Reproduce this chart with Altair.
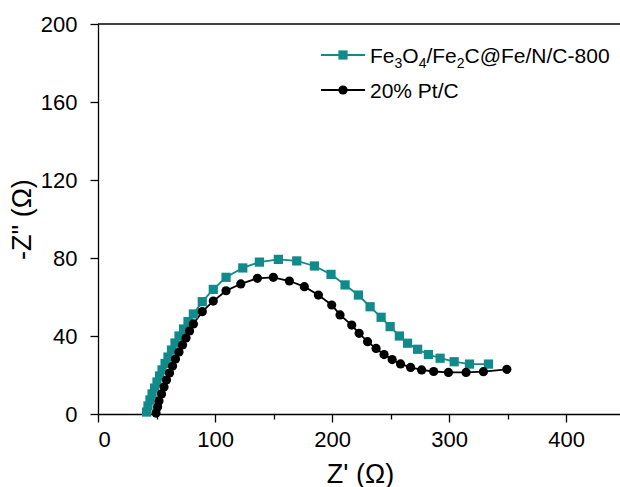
import altair as alt
import pandas as pd

# ---- data ----
series_names = ["Fe3O4/Fe2C@Fe/N/C-800", "20% Pt/C"]
series_colors = ["#108A8A", "#000000"]
series_shapes = ["square", "circle"]
# legend labels as (text, is_subscript) pieces
legend_labels = [
    [("Fe", False), ("3", True), ("O", False), ("4", True), ("/Fe", False), ("2", True),
     ("C@Fe/N/C-800", False)],
    [("20% Pt/C", False)],
]

teal_x = [41.5, 42.7, 44.4, 46.2, 48.3, 50.4, 52.6, 54.7, 57.3, 59.8, 62.8, 65.8, 69.2,
          73.1, 76.9, 81.5, 89.1, 98.5, 109.4, 123.7, 137.9, 154.1, 169.8, 184.9, 199.1,
          211.1, 222.5, 232.5, 241.9, 249.6, 257.5, 264.5, 273.1, 282.3, 292.3, 304.3,
          317.4, 333.6]
teal_y = [1.0, 4.1, 7.2, 10.3, 13.3, 16.4, 19.5, 22.6, 25.9, 29.2, 32.8, 36.4, 40.0,
          43.6, 47.4, 51.3, 57.6, 63.9, 70.1, 74.9, 77.9, 79.3, 78.5, 75.9, 71.6,
          66.2, 61.0, 55.0, 49.6, 44.8, 40.0, 36.3, 33.2, 30.5, 28.6, 26.8,
          25.6, 25.6]

black_x = [49.6, 50.9, 52.1, 54.3, 56.4, 58.5, 61.1, 63.7, 66.2, 69.2, 72.2, 75.2, 78.2,
           81.5, 89.1, 98.5, 109.4, 122.0, 136.2, 149.8, 163.5, 176.3, 188.3, 199.7,
           206.8, 216.8, 223.1, 230.3, 237.6, 244.4, 251.3, 258.5, 267.1, 276.5, 286.8,
           299.4, 314.5, 329.3, 349.3]
black_y = [0.5, 3.6, 6.7, 10.3, 13.8, 17.4, 21.0, 24.6, 28.2, 31.8, 35.4, 39.0, 42.6,
           46.2, 52.5, 57.9, 63.2, 66.7, 69.6, 70.1, 68.2, 65.3, 61.0, 55.9,
           50.8, 45.6, 41.4, 37.1, 33.6, 30.5, 27.9, 25.7, 23.9, 22.6, 21.8,
           21.3, 21.3, 21.7, 22.9]

x_ticks = [0, 50, 100, 150, 200, 250, 300, 350, 400]
y_ticks = [0, 20, 40, 60, 80, 100, 120, 140, 160, 180, 200]

df = pd.concat([
    pd.DataFrame({"x": teal_x, "y": teal_y, "series": series_names[0],
                  "i": range(len(teal_x)), "k": 0}),
    pd.DataFrame({"x": black_x, "y": black_y, "series": series_names[1],
                  "i": range(len(black_x)), "k": 1}),
], ignore_index=True)

W, H = 522, 390
FONT = "Liberation Sans"
LEG_FS, SUB_FS = 21, 14
MSIZE = 85

# approximate Arial/Liberation Sans advance widths (per 1000 em) for placing legend pieces
CW = {"F": 611, "e": 556, "O": 778, "/": 278, "C": 722, "@": 1015, "N": 722, "-": 333,
      "%": 889, " ": 278, "P": 667, "t": 278}


def text_width(s, fs):
    return sum(CW.get(ch, 556) for ch in s) * fs / 1000.0


xaxis = alt.Axis(
    values=x_ticks,
    labelExpr="datum.value % 100 === 0 ? datum.label : ''",
    tickSize={"condition": {"test": "datum.value % 100 === 0", "value": 8}, "value": 5},
    labelPadding=7,
    title="Z' (Ω)",
    titleX=262, titleY=68, titleAlign="center", titleBaseline="alphabetic",
    grid=False,
)
yaxis = alt.Axis(
    values=y_ticks,
    labelExpr="datum.value % 40 === 0 ? datum.label : ''",
    tickSize={"condition": {"test": "datum.value % 40 === 0", "value": 8}, "value": 5},
    labelPadding=13,
    title='-Z" (Ω)',
    titleAngle=270, titleX=-76, titleY=195, titleAlign="center", titleBaseline="middle",
    grid=False,
)

xs = alt.Scale(domain=[0, 446], nice=False, zero=False)
ys = alt.Scale(domain=[0, 200], nice=False)
color = alt.Color("series:N", scale=alt.Scale(domain=series_names, range=series_colors), legend=None)

base = alt.Chart(df)
lines = base.mark_line(strokeWidth=1.8).encode(
    x=alt.X("x:Q", scale=xs, axis=xaxis),
    y=alt.Y("y:Q", scale=ys, axis=yaxis),
    color=color,
    detail="series:N",
    order=alt.Order("i:Q"),
)
points = base.mark_point(filled=True, size=MSIZE, opacity=1).encode(
    x=alt.X("x:Q", scale=xs),
    y=alt.Y("y:Q", scale=ys),
    color=color,
    shape=alt.Shape("series:N", scale=alt.Scale(domain=series_names, range=series_shapes), legend=None),
    order=alt.Order("k:Q"),
)

top_line = alt.Chart(pd.DataFrame({"a": [0]})).mark_rule(color="black", strokeWidth=1.3).encode(
    x=alt.value(0), x2=alt.value(W), y=alt.value(0)
)

legend_layers = []
for idx, (pieces, col, shp) in enumerate(zip(legend_labels, series_colors, series_shapes)):
    yy = 31 + 35 * idx
    one = alt.Chart(pd.DataFrame({"a": [0]}))
    legend_layers.append(one.mark_rule(color=col, strokeWidth=1.8).encode(
        x=alt.value(223), x2=alt.value(267), y=alt.value(yy)))
    legend_layers.append(one.mark_point(filled=True, size=MSIZE, shape=shp, color=col, opacity=1).encode(
        x=alt.value(245), y=alt.value(yy)))
    xpos = 272.0
    base_line = yy + 8
    for txt, sub in pieces:
        fs = SUB_FS if sub else LEG_FS
        legend_layers.append(
            alt.Chart(pd.DataFrame({"label": [txt]})).mark_text(
                align="left", baseline="alphabetic", fontSize=fs, font=FONT, color="black"
            ).encode(x=alt.value(xpos), y=alt.value(base_line + (5 if sub else 0)), text="label:N")
        )
        xpos += text_width(txt, fs)

chart = alt.layer(lines, points, top_line, *legend_layers).properties(
    width=W, height=H,
    autosize=alt.AutoSizeParams(type="none"),
    padding={"left": 98, "top": 24, "right": 0, "bottom": 73},
    background="white",
).configure_view(stroke=None).configure_axis(
    domainColor="black", domainWidth=1.3, tickColor="black", tickWidth=1.3,
    labelColor="black", titleColor="black", labelFont=FONT, titleFont=FONT,
    labelFontSize=22, titleFontSize=27, titleFontWeight="normal",
)

chart.save("out.html", embed_options={"renderer": "svg", "actions": False})
